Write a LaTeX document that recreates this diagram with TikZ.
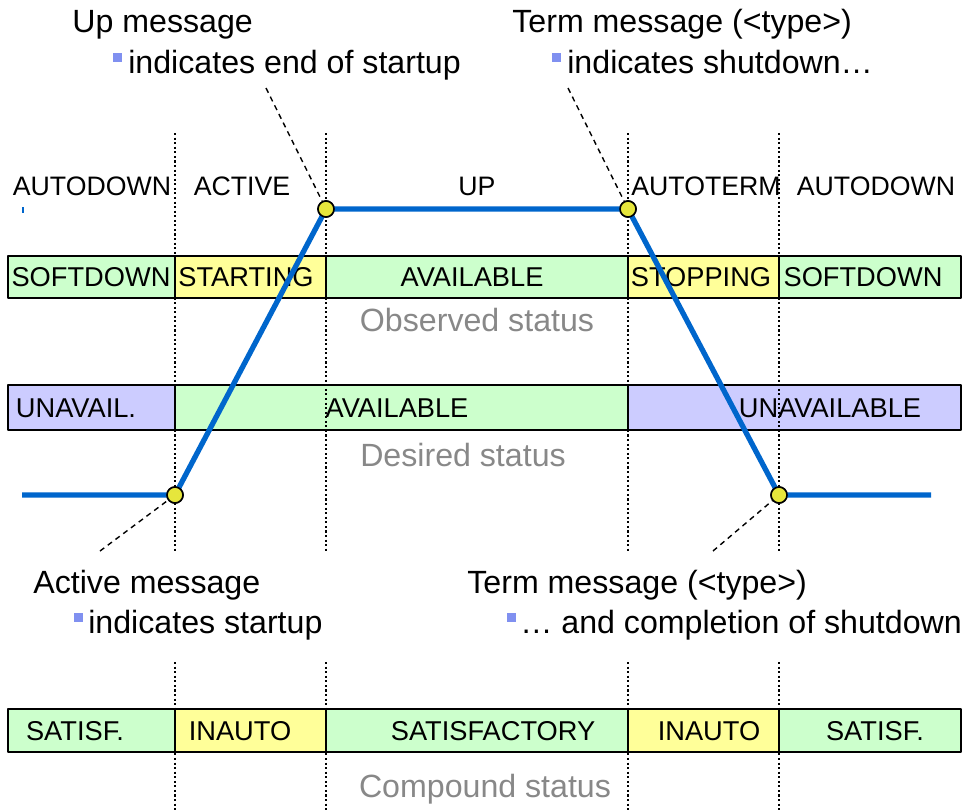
\documentclass[tikz,border=0pt]{standalone}
\usepackage{fontspec}
\setmainfont{Liberation Sans}
\usepackage{xcolor}
\usetikzlibrary{calc}
\definecolor{okgreen}{RGB}{204,255,204}
\definecolor{waityellow}{RGB}{255,255,153}
\definecolor{downblue}{RGB}{204,204,255}
\definecolor{trackblue}{RGB}{0,102,204}
\definecolor{capgray}{RGB}{136,136,136}
\definecolor{bulletblue}{RGB}{128,144,240}
\definecolor{dotyellow}{RGB}{230,230,60}

\begin{document}
\begin{tikzpicture}[x=0.02cm,y=-0.02cm,line join=round,
  bar/.style={draw=black,line width=1.1pt},
  barlbl/.style={font=\fontsize{15.5}{18}\selectfont,inner sep=0pt},
  statelbl/.style={font=\fontsize{15.2}{18}\selectfont,inner sep=0pt,anchor=base},
  msg/.style={font=\fontsize{18.3}{21}\selectfont,inner sep=0pt,anchor=base west},
  caption/.style={font=\fontsize{18.3}{21}\selectfont,inner sep=0pt,anchor=base,text=capgray},
  bullet/.style={fill=bulletblue,inner sep=0pt,minimum width=9*0.02cm,minimum height=9*0.02cm},
  sep/.style={line width=0.9pt,dash pattern=on 1.2pt off 1.4pt},
  pointer/.style={line width=0.8pt,dash pattern=on 3pt off 2.5pt},
  event/.style={circle,draw=black,fill=dotyellow,line width=0.9pt,inner sep=0pt,minimum size=16*0.02cm}]
  \useasboundingbox (0,0) rectangle (963,811);

  % observed status bar
  \draw[bar,fill=okgreen]    (8,256)   rectangle (175,298);
  \draw[bar,fill=waityellow] (175,256) rectangle (326,298);
  \draw[bar,fill=okgreen]    (326,256) rectangle (628,298);
  \draw[bar,fill=waityellow] (628,256) rectangle (779,298);
  \draw[bar,fill=okgreen]    (779,256) rectangle (961,298);
  \node[barlbl] (obsA) at (91,277)  {SOFTDOWN};
  \node[barlbl] (obsB) at (246,277) {STARTING};
  \node[barlbl] (obsC) at (472,277) {AVAILABLE};
  \node[barlbl] (obsD) at (701,277) {STOPPING};
  \node[barlbl] (obsE) at (863,277) {SOFTDOWN};
  \node[caption] (obscap) at (477,331) {Observed status};

  % desired status bar
  \draw[bar,fill=downblue] (8,385)   rectangle (175,430);
  \draw[bar,fill=okgreen]  (175,385) rectangle (628,430);
  \draw[bar,fill=downblue] (628,385) rectangle (961,430);
  \node[barlbl] (desA) at (76,408)  {UNAVAIL.};
  \node[barlbl] (desB) at (397,408) {AVAILABLE};
  \node[barlbl] (desC) at (830,408) {UNAVAILABLE};
  \node[caption] (descap) at (463,466) {Desired status};

  % compound status bar
  \draw[bar,fill=okgreen]    (8,709)   rectangle (175,752);
  \draw[bar,fill=waityellow] (175,709) rectangle (326,752);
  \draw[bar,fill=okgreen]    (326,709) rectangle (628,752);
  \draw[bar,fill=waityellow] (628,709) rectangle (779,752);
  \draw[bar,fill=okgreen]    (779,709) rectangle (961,752);
  \node[barlbl] (cmpA) at (75,731)  {SATISF.};
  \node[barlbl] (cmpB) at (240,731) {INAUTO};
  \node[barlbl] (cmpC) at (493,731) {SATISFACTORY};
  \node[barlbl] (cmpD) at (709,731) {INAUTO};
  \node[barlbl] (cmpE) at (875,731) {SATISF.};
  \node[caption] (cmpcap) at (485,797) {Compound status};

  % phase boundaries
  \draw[sep] (175,133) -- (175,552);  \draw[sep] (175,662) -- (175,811);
  \draw[sep] (326,133) -- (326,552);  \draw[sep] (326,662) -- (326,811);
  \draw[sep] (628,133) -- (628,552);  \draw[sep] (628,662) -- (628,811);
  \draw[sep] (779,133) -- (779,552);  \draw[sep] (779,662) -- (779,811);

  % process states
  \node[statelbl] (stA) at (92,195)  {AUTODOWN};
  \node[statelbl] (stB) at (242,195) {ACTIVE};
  \node[statelbl] (stC) at (477,195) {UP};
  \node[statelbl] (stD) at (706,195) {AUTOTERM};
  \node[statelbl] (stE) at (876,195) {AUTODOWN};
  \draw[trackblue,line width=0.8pt] (23,207) -- (23,213);

  % state track
  \coordinate (t0) at (22,495);
  \coordinate (t5) at (931,495);
  \node[event] (act)  at (175,495) {};
  \node[event] (up)   at (326,209) {};
  \node[event] (term) at (628,209) {};
  \node[event] (done) at (779,495) {};
  \draw[trackblue,line width=3pt] (t0) -- (act.center) -- (up.center) -- (term.center) -- (done.center) -- (t5);
  \node[event] at (act)  {};
  \node[event] at (up)   {};
  \node[event] at (term) {};
  \node[event] at (done) {};

  % message pointers
  \coordinate (upend)   at (266,88);
  \coordinate (termend) at (568,88);
  \coordinate (actend)  at (100,551);
  \coordinate (doneend) at (713,551);
  \draw[pointer] (upend) -- (up);
  \draw[pointer] (termend) -- (term);
  \draw[pointer] (actend) -- (act);
  \draw[pointer] (doneend) -- (done);

  % message texts
  \node[msg] (upmsg) at (72,33) {Up message};
  \node[bullet] (upb) at (117.5,57.5) {};
  \node[msg] (uptxt) at (128,73) {indicates end of startup};
  \node[msg] (termmsg) at (512,33) {Term message (<type>)};
  \node[bullet] (termb) at (556,58) {};
  \node[msg] (termtxt) at (567,73) {indicates shutdown…};
  \node[msg] (actmsg) at (33,593) {Active message};
  \node[bullet] (actb) at (78,617.5) {};
  \node[msg] (acttxt) at (88,633) {indicates startup};
  \node[msg] (donemsg) at (467,593) {Term message (<type>)};
  \node[bullet] (doneb) at (511,617.5) {};
  \node[msg] (donetxt) at (520,633) {… and completion of shutdown};
\end{tikzpicture}
\end{document}
